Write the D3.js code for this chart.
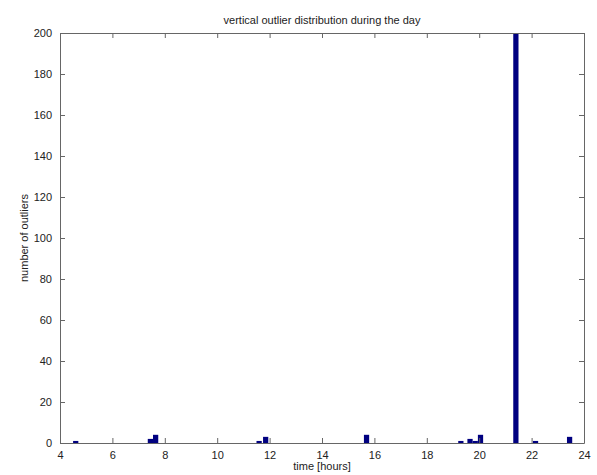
<!DOCTYPE html>
<html>
<head>
<meta charset="utf-8">
<script src="https://cdn.jsdelivr.net/npm/d3@7"></script>
<style>
  body { margin: 0; background: #fff; }
  text { font-family: "Liberation Sans", Arial, sans-serif; fill: #222; }
</style>
</head>
<body>
<div id="chart"></div>
<script>
// bin centres (hours) and counts
const hours = [4.6, 7.45, 7.65, 11.6, 11.85, 15.7, 19.3, 19.65, 19.85, 20.05, 21.4, 22.15, 23.45];
const counts = [1, 2, 4, 1, 3, 4, 1, 2, 1, 4, 200, 1, 3];
const binWidth = 0.2;
const xTicks = [4, 6, 8, 10, 12, 14, 16, 18, 20, 22, 24];
const yTicks = [0, 20, 40, 60, 80, 100, 120, 140, 160, 180, 200];

const W = 597, H = 475;
const margin = { top: 33, right: 13, bottom: 32, left: 60 };
const w = W - margin.left - margin.right;
const h = H - margin.top - margin.bottom;

const svg = d3.select("#chart").append("svg")
  .attr("width", W).attr("height", H);

const g = svg.append("g")
  .attr("transform", `translate(${margin.left},${margin.top})`);

const x = d3.scaleLinear().domain([4, 24]).range([0, w]);
const y = d3.scaleLinear().domain([0, 200]).range([h, 0]);

g.append("clipPath").attr("id", "clip")
  .append("rect").attr("width", w).attr("height", h);

// bars
g.append("g").attr("clip-path", "url(#clip)")
  .selectAll("rect")
  .data(hours.map((d, i) => ({ hour: d, count: counts[i] })))
  .enter().append("rect")
  .attr("x", d => x(d.hour - binWidth / 2))
  .attr("width", d => x(d.hour + binWidth / 2) - x(d.hour - binWidth / 2))
  .attr("y", d => y(d.count))
  .attr("height", d => h - y(d.count))
  .attr("fill", "#000080");

// axes, ticks pointing inward like matlab
const axisCol = "#666";
const axBottom = g.append("g").attr("transform", `translate(0,${h})`)
  .call(d3.axisBottom(x).tickValues(xTicks).tickSizeInner(-5).tickSizeOuter(0).tickPadding(8));
const axTop = g.append("g")
  .call(d3.axisTop(x).tickValues(xTicks).tickSizeInner(-5).tickSizeOuter(0).tickFormat(""));
const axLeft = g.append("g")
  .call(d3.axisLeft(y).tickValues(yTicks).tickSizeInner(-5).tickSizeOuter(0).tickPadding(8));
const axRight = g.append("g").attr("transform", `translate(${w},0)`)
  .call(d3.axisRight(y).tickValues(yTicks).tickSizeInner(-5).tickSizeOuter(0).tickFormat(""));

[axBottom, axTop, axLeft, axRight].forEach(a => {
  a.select(".domain").attr("stroke", axisCol);
  a.selectAll(".tick line").attr("stroke", axisCol);
  a.selectAll(".tick text").attr("font-size", 11).attr("fill", "#222")
    .style("font-family", "'Liberation Sans', Arial, sans-serif");
});

// title and labels
svg.append("text")
  .attr("x", margin.left + w / 2).attr("y", 24)
  .attr("text-anchor", "middle").attr("font-size", 11)
  .text("vertical outlier distribution during the day");

svg.append("text")
  .attr("x", margin.left + w / 2).attr("y", 470)
  .attr("text-anchor", "middle").attr("font-size", 11)
  .text("time [hours]");

svg.append("text")
  .attr("transform", `translate(28,${margin.top + h / 2}) rotate(-90)`)
  .attr("text-anchor", "middle").attr("font-size", 11)
  .text("number of outliers");
</script>
</body>
</html>
